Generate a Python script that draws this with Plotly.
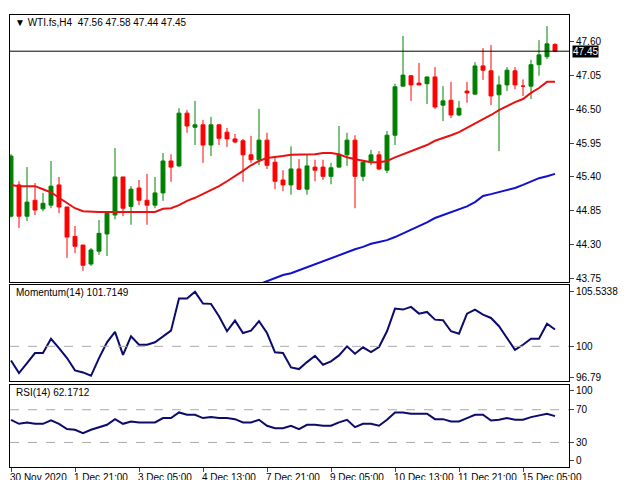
import plotly.graph_objects as go

opens = [44.76,45.27,44.76,45.02,44.88,44.94,45.27,44.91,44.43,44.29,43.98,44.19,44.47,44.78,45.40,44.92,45.22,45.02,44.94,45.14,
         45.66,45.58,46.44,46.21,46.25,45.92,46.25,46.13,46.02,45.99,45.76,45.68,46.00,45.64,45.35,45.27,45.53,45.20,45.56,45.56,
         45.41,45.56,45.76,46.00,45.41,45.66,45.76,45.51,46.08,46.88,47.05,46.93,46.92,47.03,46.57,46.65,46.41,46.80,46.75,47.21,
         47.13,46.74,46.90,47.13,46.88,46.88,47.23,47.36,47.56]
highs = [45.77,45.33,45.56,45.30,45.14,45.66,45.40,44.91,44.60,44.29,44.24,44.70,44.81,45.87,45.40,45.25,45.35,45.45,45.40,45.79,
         45.77,46.52,46.49,46.64,46.33,46.38,46.25,46.20,46.10,46.02,46.07,46.51,46.12,45.72,45.51,45.90,45.69,45.76,45.68,45.68,
         45.63,46.23,46.12,46.08,45.68,45.84,45.82,46.15,46.92,47.70,47.06,47.26,46.92,47.19,46.88,46.95,46.64,46.95,47.27,47.50,
         47.55,47.05,47.19,47.19,46.99,47.31,47.63,47.86,47.58]
lows = [44.74,44.57,44.68,44.78,44.84,44.89,44.81,44.08,44.16,43.87,43.95,44.13,44.11,44.71,44.76,44.62,44.94,44.62,44.89,45.01,
        45.32,45.56,46.12,45.92,45.63,45.74,45.92,45.89,45.95,45.32,45.63,45.59,45.53,45.20,45.17,45.11,45.19,45.11,45.33,45.35,
        45.28,45.55,45.58,44.89,45.33,45.59,45.51,45.46,45.92,46.88,46.64,46.90,46.59,46.51,46.31,46.36,46.39,46.61,46.74,46.98,
        46.57,45.82,46.80,46.83,46.72,46.67,47.05,47.32,47.44]
closes = [45.74,44.76,44.99,44.86,44.97,45.25,44.91,44.42,44.27,43.96,44.21,44.48,44.81,45.40,44.89,45.20,45.02,44.94,45.14,45.66,
          45.56,46.44,46.23,46.25,45.92,46.25,46.03,46.02,45.97,45.76,45.68,46.00,45.59,45.33,45.27,45.53,45.20,45.58,45.51,45.41,
          45.55,45.76,46.00,45.41,45.64,45.76,45.53,46.08,46.87,47.06,46.90,46.90,47.03,46.54,46.64,46.41,46.52,46.77,47.21,47.14,
          46.72,46.90,47.14,46.90,46.88,47.23,47.39,47.57,47.45]
ma_fast = [45.27,45.25,45.25,45.25,45.20,45.15,45.06,44.97,44.89,44.84,44.83,44.83,44.83,44.83,44.83,44.83,44.83,44.83,44.83,44.88,
           44.89,44.94,45.01,45.06,45.12,45.19,45.25,45.33,45.41,45.50,45.59,45.66,45.71,45.72,45.74,45.76,45.76,45.77,45.77,45.79,
           45.79,45.77,45.72,45.69,45.66,45.64,45.64,45.66,45.72,45.77,45.82,45.87,45.92,45.99,46.03,46.08,46.13,46.20,46.26,46.33,
           46.41,46.49,46.56,46.62,46.67,46.77,46.85,46.95,46.95]
ma_slow = [None]*31 + [43.65,43.70,43.75,43.80,43.83,43.88,43.93,43.98,44.03,44.08,44.13,44.18,44.22,44.26,44.31,44.34,44.37,44.42,
           44.48,44.53,44.60,44.66,44.73,44.78,44.83,44.88,44.92,44.99,45.09,45.12,45.15,45.19,45.22,45.27,45.33,45.38,45.41,45.45]
momentum = [98.57,97.28,98.30,99.32,99.32,100.77,99.83,98.81,97.56,97.35,97.01,98.81,100.41,101.46,99.14,101.02,100.16,100.16,100.41,101.02,
            101.59,104.85,104.85,105.53,104.34,104.31,103.05,101.53,102.61,101.35,101.59,102.55,101.35,99.39,99.32,97.86,97.69,98.40,99.04,98.13,
            98.47,99.08,100.00,99.25,99.90,99.42,99.93,101.53,103.83,103.73,104.00,103.32,103.49,102.71,102.65,101.53,101.28,103.32,103.73,103.22,
            102.88,102.04,100.84,99.65,100.16,100.77,100.77,102.30,101.71]
rsi = [57.7,52.8,54.5,52.8,52.8,56.9,52.8,46.3,45.5,41.4,45.5,48.7,51.6,58.5,52.8,55.7,54.5,54.5,54.5,59.8,
       59.8,66.7,63.9,63.9,59.8,61.0,59.8,59.8,58.5,54.5,54.5,57.7,50.4,47.5,47.5,50.4,46.3,51.6,51.6,50.4,
       50.4,54.5,57.7,48.7,52.8,52.8,50.4,57.7,66.7,66.7,65.1,65.1,65.1,58.5,58.5,55.7,55.7,59.8,63.9,63.9,
       56.9,57.7,59.8,57.7,57.7,61.0,63.0,65.1,62.2]
price_ticks = [43.75,44.30,44.85,45.40,45.95,46.50,47.05,47.60]
mom_ticks = [105.5338,100,96.79]
rsi_levels = [70,30]
rsi_labels = ["100","70","30","0"]
date_idx = [0,8,16,24,32,40,48,56,64]
date_labels = ["30 Nov 2020","1 Dec 21:00","3 Dec 05:00","4 Dec 13:00","7 Dec 21:00",
               "9 Dec 05:00","10 Dec 13:00","11 Dec 21:00","15 Dec 05:00"]
last_price = 47.45

x = list(range(len(opens)))
NAVY = "#0b0b6e"
fig = go.Figure()
fig.add_trace(go.Candlestick(x=x, open=opens, high=highs, low=lows, close=closes,
    increasing=dict(line=dict(color="#008000", width=1), fillcolor="#008000"),
    decreasing=dict(line=dict(color="#ff0000", width=1), fillcolor="#ff0000"),
    whiskerwidth=0, xaxis="x", yaxis="y", showlegend=False))
fig.add_trace(go.Scatter(x=x, y=ma_fast, mode="lines", line=dict(color="#e81010", width=2), xaxis="x", yaxis="y", showlegend=False))
fig.add_trace(go.Scatter(x=x, y=ma_slow, mode="lines", line=dict(color="#1010d0", width=2), xaxis="x", yaxis="y", showlegend=False))
fig.add_trace(go.Scatter(x=x, y=momentum, mode="lines", line=dict(color=NAVY, width=2), xaxis="x2", yaxis="y2", showlegend=False))
fig.add_trace(go.Scatter(x=x, y=rsi, mode="lines", line=dict(color=NAVY, width=2), xaxis="x3", yaxis="y3", showlegend=False))

xr = [-0.125, 69.75]
ax = dict(range=xr, showgrid=False, zeroline=False, showline=True, linecolor="black", mirror=True, linewidth=1)
fnt = dict(family="Liberation Sans, Arial", size=10, color="black")
ya = dict(side="right", showgrid=False, zeroline=False, showline=True, linecolor="black", mirror=True,
          ticks="outside", ticklen=4, tickfont=fnt)
fig.update_layout(
    width=640, height=480, margin=dict(l=2, r=79, t=7, b=21),
    paper_bgcolor="white", plot_bgcolor="white",
    xaxis=dict(ax, domain=[0, 1], anchor="y", showticklabels=False, rangeslider=dict(visible=False)),
    xaxis2=dict(ax, domain=[0, 1], anchor="y2", showticklabels=False, matches="x"),
    xaxis3=dict(ax, domain=[0, 1], anchor="y3", showticklabels=False, matches="x",
                tickvals=date_idx, ticks="outside", ticklen=4),
    yaxis=dict(ya, domain=[0.409, 1.0], range=[43.685, 48.04], tickvals=price_ticks,
               ticktext=[f"{v:.2f}" for v in price_ticks]),
    yaxis2=dict(ya, domain=[0.19, 0.403], range=[96.47, 106.24], tickvals=mom_ticks,
                ticktext=["105.5338", "100", "96.79"]),
    yaxis3=dict(ya, domain=[0, 0.181], range=[0, 100], tickvals=[93, 70, 30, 8], ticktext=rsi_labels),
    font=fnt,
)
fig.add_shape(type="line", xref="x domain", yref="y", x0=0, x1=1, y0=last_price, y1=last_price, line=dict(color="black", width=1))
fig.add_shape(type="line", xref="x2 domain", yref="y2", x0=0, x1=1, y0=100, y1=100, line=dict(color="#aaaaaa", width=1, dash="dash"))
for lv in rsi_levels:
    fig.add_shape(type="line", xref="x3 domain", yref="y3", x0=0, x1=1, y0=lv, y1=lv, line=dict(color="#aaaaaa", width=1, dash="dash"))
fig.add_annotation(xref="paper", yref="y", x=1.005, y=last_price, text=f"{last_price:.2f}", showarrow=False,
                   xanchor="left", bgcolor="black", font=dict(family="Liberation Sans, Arial", size=10, color="white"), borderpad=0)
fig.add_annotation(xref="paper", yref="paper", x=0.005, y=1.0, yanchor="top", xanchor="left", showarrow=False,
                   text=f"▼ WTI.fs,H4  {opens[-1]:.2f} {highs[-1]:.2f} {lows[-1]:.2f} {closes[-1]:.2f}", font=fnt)
fig.add_annotation(xref="paper", yref="paper", x=0.008, y=0.403, yanchor="top", xanchor="left", showarrow=False,
                   text="Momentum(14) 101.7149", font=fnt)
fig.add_annotation(xref="paper", yref="paper", x=0.008, y=0.181, yanchor="top", xanchor="left", showarrow=False,
                   text="RSI(14) 62.1712", font=fnt)
for i, lab in zip(date_idx, date_labels):
    fig.add_annotation(xref="x3", yref="paper", x=i, y=0, yanchor="top", xanchor="left", yshift=-3, xshift=-3,
                       showarrow=False, text=lab, font=fnt)
fig.write_html("out.html")
